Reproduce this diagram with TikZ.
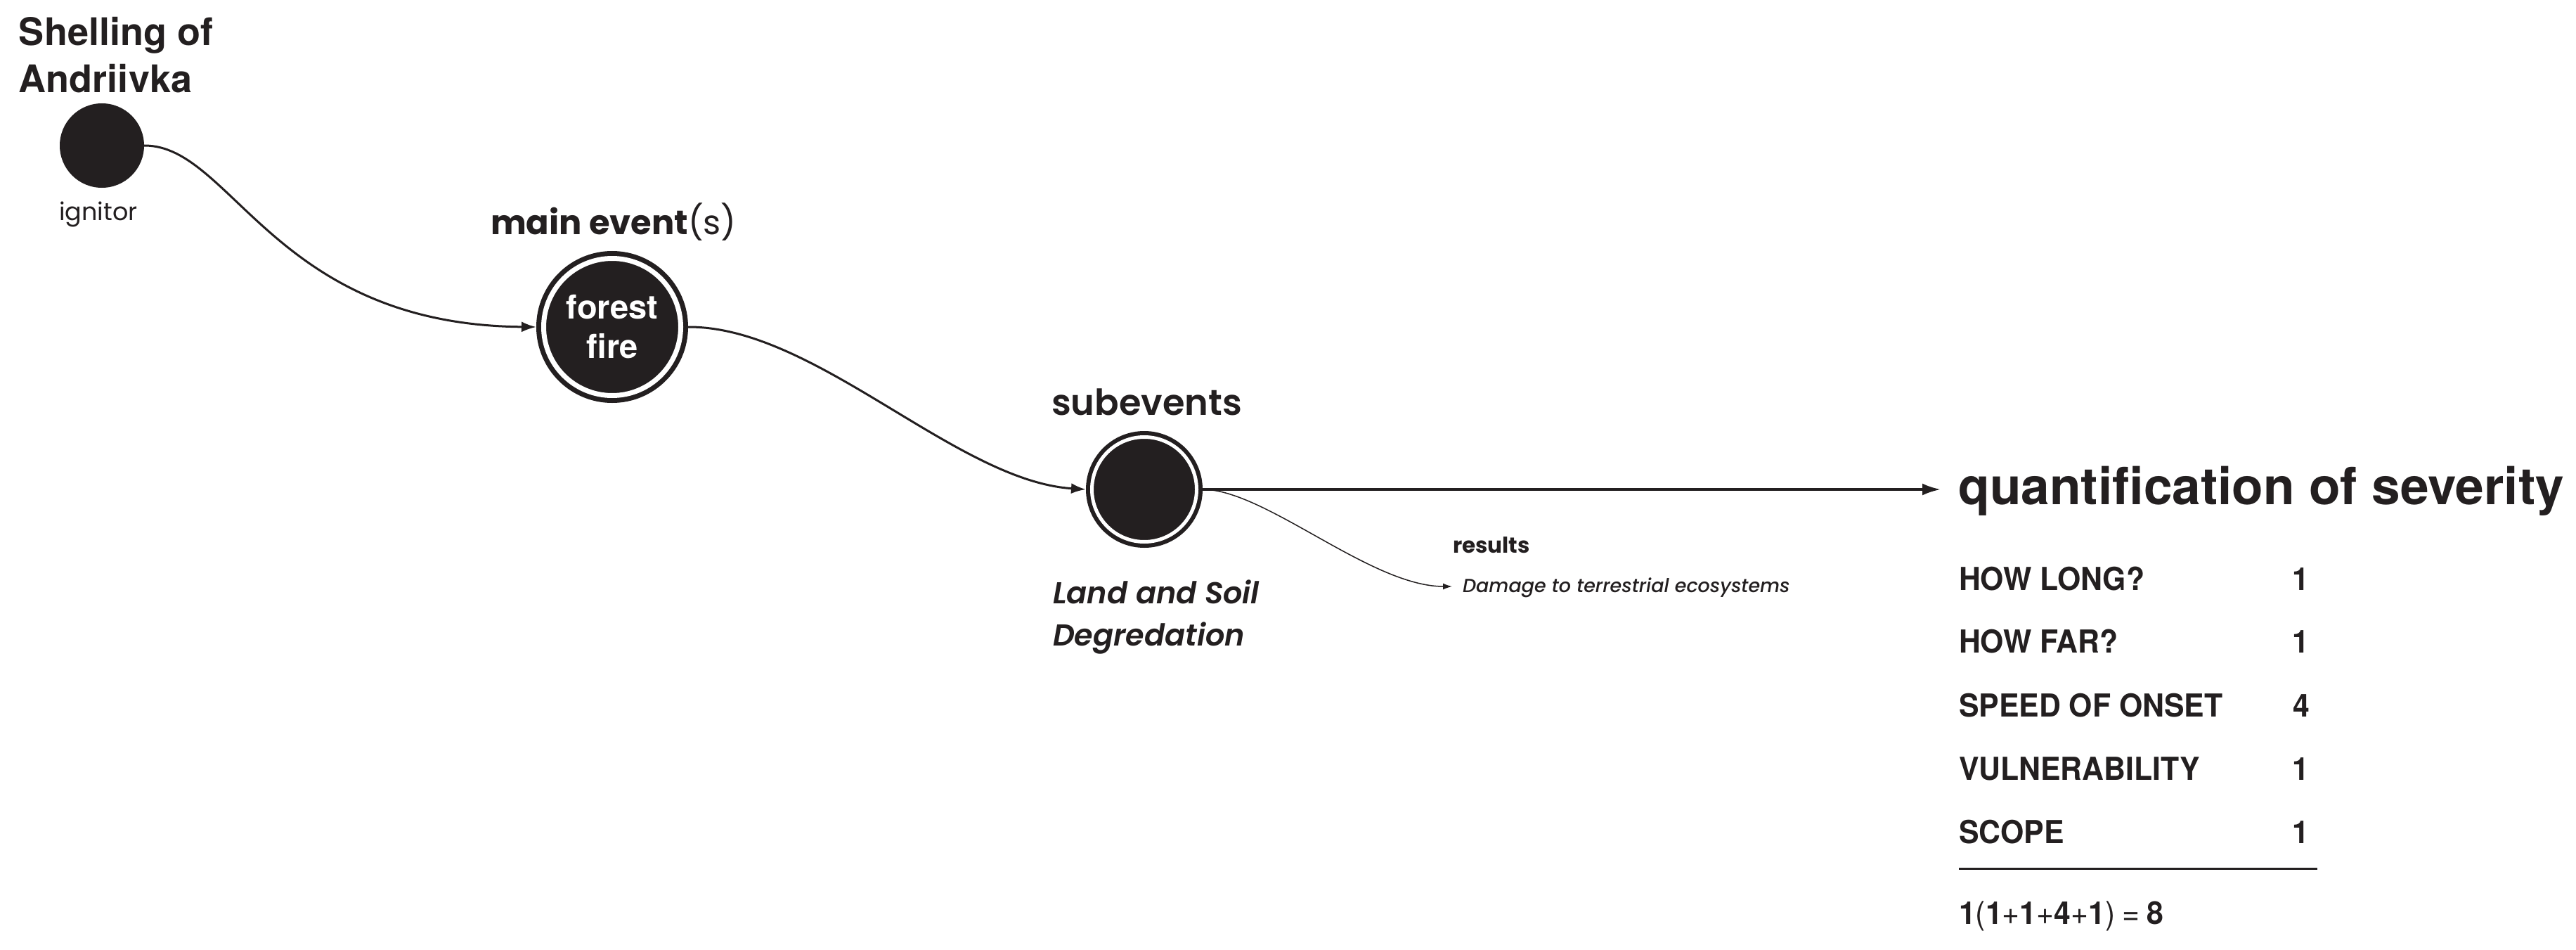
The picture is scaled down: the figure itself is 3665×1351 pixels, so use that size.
\documentclass[tikz,border=0pt]{standalone}
\usepackage{fontspec}
\usetikzlibrary{arrows.meta}
\setmainfont{TeX Gyre Heros}
\newfontfamily\heros{TeX Gyre Heros}
\newfontfamily\herosc{TeX Gyre Heros}[FakeStretch=0.95]
\newfontfamily\pop{Poppins}
\IfFontExistsTF{Poppins SemiBold}{\newfontfamily\popsemi{Poppins SemiBold}}{\newfontfamily\popsemi{Poppins}[FakeBold=1.5]}
\IfFontExistsTF{Poppins SemiBold Italic}{\newfontfamily\popsemiit{Poppins SemiBold Italic}}{%
  \IfFontExistsTF{Poppins SemiBold}{\newfontfamily\popsemiit{Poppins SemiBold}[FakeSlant=0.2]}{\newfontfamily\popsemiit{Poppins}[FakeSlant=0.2,FakeBold=1.5]}}
\IfFontExistsTF{Poppins Medium Italic}{\newfontfamily\popmedit{Poppins Medium Italic}}{%
  \IfFontExistsTF{Poppins Medium}{\newfontfamily\popmedit{Poppins Medium}[FakeSlant=0.2]}{\newfontfamily\popmedit{Poppins}[FakeSlant=0.2,FakeBold=0.8]}}
\definecolor{dark}{RGB}{35,31,32}
\tikzset{
  txt/.style={inner sep=0pt, outer sep=0pt, text=dark},
  ttl/.style={txt, anchor=base west, font=\heros\bfseries\fontsize{54}{64}\selectfont},
  ignlbl/.style={txt, anchor=base, font=\pop\fontsize{35}{42}\selectfont},
  headpop/.style={txt, anchor=base west, font=\popsemi\fontsize{51}{60}\selectfont},
  italpop/.style={txt, anchor=base west, font=\popsemiit\fontsize{43}{50}\selectfont},
  reslbl/.style={txt, anchor=base west, font=\pop\bfseries\fontsize{31}{37}\selectfont},
  dmglbl/.style={txt, anchor=base west, font=\popmedit\fontsize{27}{32}\selectfont},
  qttl/.style={txt, anchor=base west, font=\heros\bfseries\fontsize{73}{86}\selectfont},
  rowlbl/.style={txt, anchor=base west, font=\herosc\bfseries\fontsize{45}{54}\selectfont},
  dot/.style={circle, fill=dark, draw=none, minimum size=120pt, inner sep=0pt, outer sep=0pt},
  ringbig/.style={circle, fill=dark, draw=dark, double=white, line width=7pt, double distance=7pt,
     minimum size=195pt, inner sep=0pt, outer sep=10.5pt, align=center, text=white,
     font=\heros\bfseries\fontsize{47}{56}\selectfont},
  ringsmall/.style={circle, fill=dark, draw=dark, double=white, line width=6pt, double distance=5pt,
     minimum size=149pt, inner sep=0pt, outer sep=8.5pt},
  conn/.style={draw=dark, line width=3pt, -{Latex[length=21pt,width=15pt]}},
  mainline/.style={draw=dark, line width=3.5pt, -{Latex[length=26pt,width=17pt]}},
  thinconn/.style={draw=dark, line width=1.5pt, -{Latex[length=13pt,width=9pt]}},
  rule/.style={draw=dark, line width=3pt}
}
\begin{document}
\begin{tikzpicture}[x=1pt,y=-1pt]
\useasboundingbox[fill=white] (0,0) rectangle (3665,1351);

% ignitor
\node[ttl] (t1) at (27,65) {Shelling of};
\node[ttl] (t2) at (27,132) {Andriivka};
\node[dot] (ign) at (145,207) {};
\node[ignlbl] (ignl) at (140,313) {ignitor};

% main event
\node[txt, anchor=base west, font=\fontsize{48}{58}\selectfont] (mel) at (698,333) {{\pop\bfseries main event}{\pop(s)}};
\node[ringbig] (ff) at (871,465) {forest\\fire};

% subevents
\node[headpop] (subl) at (1496,590) {subevents};
\node[ringsmall] (sub) at (1628,696) {};
\node[italpop] (ls1) at (1498,858) {Land and Soil};
\node[italpop] (ls2) at (1498,918) {Degredation};

% results
\node[reslbl] (res) at (2067,786) {results};
\node[dmglbl] (dmg) at (2081,842) {Damage to terrestrial ecosystems};
\coordinate (dmgin) at (2066,834);

% quantification
\coordinate (qin) at (2761,696);
\node[qttl] (q) at (2786,717) {quantification of severity};
\node[rowlbl] (r1) at (2787,839) {HOW LONG?};
\node[rowlbl] (r2) at (2787,928) {HOW FAR?};
\node[rowlbl] (r3) at (2787,1019) {SPEED OF ONSET};
\node[rowlbl] (r4) at (2787,1109) {VULNERABILITY};
\node[rowlbl] (r5) at (2787,1199) {SCOPE};
\node[rowlbl] (v1) at (3261,839) {1};
\node[rowlbl] (v2) at (3261,928) {1};
\node[rowlbl] (v3) at (3262,1019) {4};
\node[rowlbl] (v4) at (3261,1109) {1};
\node[rowlbl] (v5) at (3261,1199) {1};
\coordinate (ruleL) at (2787,1235);
\coordinate (ruleR) at (3297,1235);
\draw[rule] (ruleL) -- (ruleR);
\node[txt, anchor=base west, font=\herosc\fontsize{45}{54}\selectfont] (sum) at (2787,1314)
  {\textbf{1}(\textbf{1}+\textbf{1}+\textbf{4}+\textbf{1})\hspace{10pt}=\hspace{10pt}\textbf{8}};

% connectors
\draw[conn] (ign.east) .. controls (330,206) and (390,462) .. (ff.west);
\draw[conn] (ff.east) .. controls (1160,464) and (1360,684) .. (sub.west);
\draw[mainline] (sub.east) -- (qin);
\draw[thinconn] (sub.east) .. controls (1800,696) and (1950,834) .. (dmgin);
\end{tikzpicture}
\end{document}
